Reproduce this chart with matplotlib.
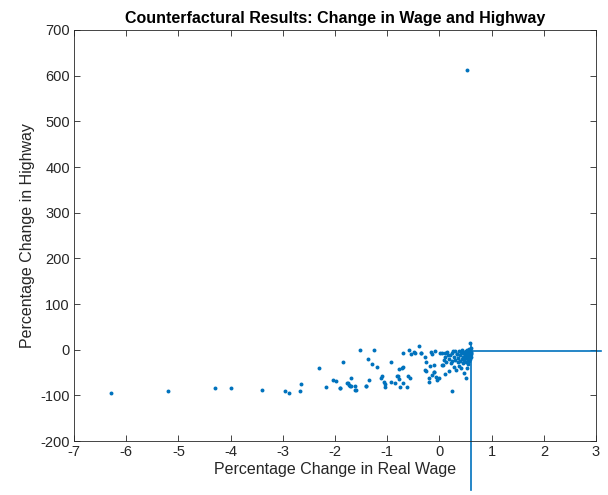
import matplotlib
matplotlib.use("Agg")
import matplotlib.pyplot as plt

plt.rcParams['font.family'] = ['Liberation Sans', 'DejaVu Sans']
plt.rcParams['axes.unicode_minus'] = False

# Scatter data: percentage change in real wage (x) vs highway (y)
wage_change = [
    -6.30, -5.19, -4.29, -3.99, -3.40, -2.95, -2.89, -2.68, -2.65, -2.31,
    -2.18, -2.04, -1.98, -1.90, -1.84, -1.77, -1.73, -1.69, -1.69, -1.61,
    -1.61, -1.53, -1.40, -1.37, -1.34, -1.30, -1.26, -1.20, -1.12, -1.10,
    -1.07, -1.05, -1.05, -0.93, -0.92, -0.86, -0.81, -0.77, -0.78, -1.90,
    -1.76, -1.71, -1.60, -1.41, -0.80, -0.76, -0.69, -0.62, -0.70, -0.69,
    -0.58, -0.61, -0.56, -0.48, -0.40, -0.35, -0.54, -0.72, -0.27, -0.26,
    -0.28, -0.17, -0.15, -0.08, -0.11, -0.11, -0.15, -0.20, -0.19, -0.06,
    -0.04, 0.02, 0.04, 0.11, 0.08, 0.05, 0.11, 0.19, 0.16, 0.24,
    0.50, 0.58, 0.06, 0.00, -0.10, -0.18, -0.26, -0.36, -0.46,
    0.15, 0.18, 0.20, 0.22, 0.24, 0.25, 0.27, 0.28, 0.30, 0.30,
    0.32, 0.33, 0.35, 0.36, 0.37, 0.38, 0.40, 0.40, 0.41, 0.42,
    0.43, 0.44, 0.45, 0.45, 0.46, 0.47, 0.48, 0.48, 0.49, 0.50,
    0.50, 0.51, 0.52, 0.52, 0.53, 0.53, 0.54, 0.55, 0.55, 0.56,
    0.56, 0.57, 0.57, 0.58, 0.58, 0.59, 0.59, 0.60, 0.60, 0.60,
    0.61, 0.61, 0.10, 0.13, 0.26, 0.34, 0.53,
]
highway_change = [
    -95, -91, -83, -84, -88, -91, -95, -90, -75, -40,
    -82, -66, -69, -84, -27, -72, -78, -63, -80, -79,
    -89, -1, -80, -20, -66, -31, -1, -37, -62, -58,
    -71, -75, -82, -28, -71, -72, -57, -43, -65, -83,
    -74, -79, -88, -80, -57, -81, -72, -81, -38, -7,
    0, -57, -63, -6, 9, -8, -10, -39, -17, -26,
    -44, -4, -10, -2, -33, -48, -55, -63, -71, -59,
    -66, -7, -7, -8, -23, -33, -53, -47, -12, -90,
    -61, 14, -34, -61, -48, -35, -46, -8, -8,
    -5, -20, -12, -30, -8, -25, -38, -15, -3, -22,
    -45, -10, -28, -18, -2, -35, -12, -25, -6, -40,
    -20, -1, -15, -30, -8, -22, -4, -50, -12, -18,
    -2, -28, -8, -40, -14, 0, -22, -5, -32, -10,
    2, -18, -25, -6, -12, -1, -20, -8, -15, 3,
    -4, -10, -15, -28, -3, -9, 612,
]

# Reference lines (vertical and horizontal)
vline_x = [0.60, 0.60]
vline_y = [-307, 15]
hline_x = [0.60, 3.10]
hline_y = [-3, -3]

xticks = list(range(-7, 4))
yticks = list(range(-200, 701, 100))

blue = '#0072BD'

fig = plt.figure(figsize=(6.08, 4.95), dpi=100)
ax = fig.add_axes([0.1217, 0.109, 0.8586, 0.8304])

ax.scatter(wage_change, highway_change, s=8, color=blue, linewidths=0)
ax.plot(vline_x, vline_y, color=blue, lw=1.2, clip_on=False)
ax.plot(hline_x, hline_y, color=blue, lw=1.2, clip_on=False)

ax.set_xlim(-7, 3)
ax.set_ylim(-200, 700)
ax.set_xticks(xticks)
ax.set_yticks(yticks)
ax.tick_params(direction='in', length=4, width=0.6, top=True, right=True,
               labelsize=10.5, colors='#262626', pad=3)
for sp in ax.spines.values():
    sp.set_color('#262626')
    sp.set_linewidth(0.6)

ax.set_xlabel('Percentage Change in Real Wage', fontsize=11.5, color='#262626', labelpad=2)
ax.set_ylabel('Percentage Change in Highway', fontsize=11.5, color='#262626', labelpad=4)
ax.set_title('Counterfactural Results: Change in Wage and Highway', fontsize=11.5,
             fontweight='bold', pad=5)

fig.savefig('out.png', dpi=100)
